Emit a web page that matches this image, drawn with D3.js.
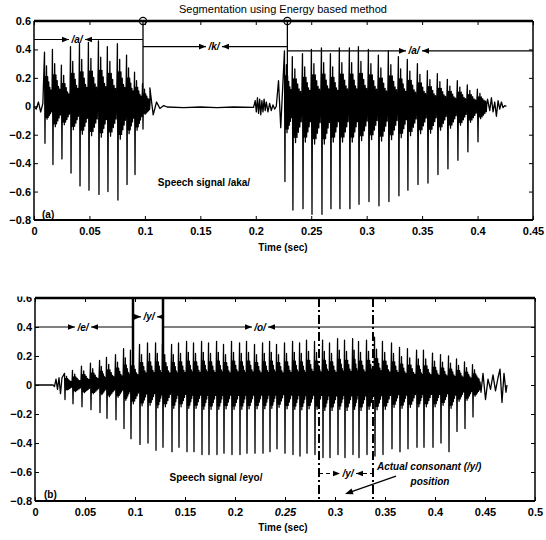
<!DOCTYPE html>
<html>
<head>
<meta charset="utf-8">
<script src="https://cdn.jsdelivr.net/npm/d3@7"></script>
<style>
  body { margin: 0; background: #fff; }
  svg { display: block; font-family: "Liberation Sans", Arial, sans-serif; }
  .tick text { font-size: 11px; font-weight: bold; fill: #000; }
  .tick line { stroke: #000; stroke-width: 1; }
  .seg-label { font-size: 10px; font-weight: bold; font-style: italic; }
  .note { font-size: 10px; font-weight: bold; }
</style>
</head>
<body>
<svg id="chart" width="546" height="540"></svg>
<script>
// ---------- tick labels ----------
const yTicks = [-0.8, -0.6, -0.4, -0.2, 0, 0.2, 0.4, 0.6];
const akaXTicks = [0, 0.05, 0.1, 0.15, 0.2, 0.25, 0.3, 0.35, 0.4, 0.45];
const eyoXTicks = [0, 0.05, 0.1, 0.15, 0.2, 0.25, 0.3, 0.35, 0.4, 0.45, 0.5];

// one pitch period, as [phase of period, peak used, share of that peak]
const pulseShape = [
  [-0.06, 'p', 1], [0, 'n', 1], [0.06, 'p', 0.55], [0.12, 'n', 0.3],
  [0.19, 'p', 0.75], [0.26, 'n', 0.35], [0.33, 'p', 0.55], [0.40, 'n', 0.3],
  [0.47, 'p', 0.45], [0.54, 'n', 0.25], [0.61, 'p', 0.35], [0.68, 'n', 0.2],
  [0.75, 'p', 0.3], [0.82, 'n', 0.15], [0.88, 'p', 0.15]
];

// ---------- (a) speech signal /aka/ ----------
const akaOnset = [[0, 0], [0.002, -0.02], [0.004, 0.03], [0.006, -0.04], [0.008, 0.02]];
const akaA1Times = [0.0099, 0.0171, 0.0252, 0.0334, 0.0415, 0.0496, 0.0586, 0.0667, 0.0757, 0.0839, 0.0911, 0.0983];
const akaA1Pos = [0.38, 0.40, 0.29, 0.42, 0.44, 0.45, 0.46, 0.42, 0.44, 0.36, 0.24, 0.16];
const akaA1Neg = [-0.26, -0.41, -0.37, -0.47, -0.56, -0.59, -0.62, -0.60, -0.66, -0.55, -0.48, -0.16];
const akaClosure = [
  [0.1045, 0.13], [0.1075, -0.06], [0.1105, 0.03], [0.1135, -0.015], [0.117, 0.005],
  [0.12, -0.005], [0.135, -0.01], [0.15, -0.005], [0.165, -0.01], [0.18, -0.005], [0.198, -0.008],
  [0.1995, 0.04], [0.2005, -0.04], [0.2015, 0.06], [0.2025, -0.05], [0.2035, 0.05], [0.2045, -0.06],
  [0.2055, 0.04], [0.2065, -0.04], [0.2075, 0.05], [0.2085, -0.03], [0.2095, 0.03], [0.211, -0.04],
  [0.2125, 0.02], [0.214, -0.03], [0.2155, 0.01], [0.217, -0.02], [0.2185, 0.0], [0.2205, 0.18],
  [0.2225, -0.15]
];
const akaA2Times = [0.2263, 0.2335, 0.2426, 0.2507, 0.2597, 0.2678, 0.2759, 0.2849, 0.2931, 0.3021, 0.3111,
  0.3201, 0.3291, 0.3372, 0.3463, 0.3553, 0.3643, 0.3733, 0.3823, 0.3913, 0.4004];
const akaA2Pos = [0.39, 0.35, 0.37, 0.40, 0.41, 0.37, 0.41, 0.41, 0.42, 0.40, 0.36, 0.39, 0.35, 0.33, 0.30,
  0.25, 0.23, 0.19, 0.18, 0.15, 0.12];
const akaA2Neg = [-0.53, -0.73, -0.72, -0.76, -0.76, -0.72, -0.72, -0.72, -0.69, -0.67, -0.70, -0.67, -0.63,
  -0.59, -0.55, -0.54, -0.48, -0.44, -0.38, -0.32, -0.25];
const akaTail = [[0.409, 0.05], [0.411, -0.03], [0.4125, 0.06], [0.414, -0.04], [0.4155, 0.03], [0.417, -0.07],
  [0.4185, 0.04], [0.42, -0.02], [0.4215, 0.03], [0.423, -0.01], [0.4245, 0.005], [0.426, 0]];
const akaBoundaries = [0.0983, 0.2285];
const akaSegments = [
  { label: '/a/', from: 0, to: 0.0983, y: 0.47, at: 0.0388 },
  { label: '/k/', from: 0.0983, to: 0.2285, y: 0.42, at: 0.1623 },
  { label: '/a/', from: 0.2285, to: 0.45, y: 0.39, at: 0.3427 }
];

// ---------- (b) speech signal /eyo/ ----------
const eyoOnset = [[0, 0], [0.018, 0], [0.0195, -0.01], [0.021, 0.04], [0.0225, -0.03], [0.024, 0.05],
  [0.0255, -0.06], [0.027, 0.05]];
const eyoTimes = [0.030, 0.038, 0.047, 0.056, 0.065, 0.072, 0.081, 0.089, 0.096, 0.105, 0.113, 0.121, 0.128,
  0.137, 0.144, 0.152, 0.159,
  0.167, 0.174, 0.182, 0.189, 0.197, 0.205, 0.212, 0.220, 0.228, 0.235, 0.242, 0.250, 0.258, 0.265, 0.272,
  0.280, 0.288, 0.295, 0.303, 0.310, 0.318,
  0.324, 0.332, 0.340, 0.348, 0.357, 0.365, 0.373, 0.382, 0.389, 0.398, 0.406, 0.414, 0.422, 0.430, 0.438];
const eyoPos = [0.08, 0.10, 0.13, 0.15, 0.17, 0.19, 0.21, 0.25, 0.24, 0.28, 0.29, 0.29, 0.28, 0.28, 0.29, 0.30, 0.29,
  0.30, 0.29, 0.30, 0.28, 0.30, 0.29, 0.30, 0.28, 0.29, 0.30, 0.28, 0.29, 0.30, 0.29, 0.31, 0.30, 0.31, 0.29,
  0.32, 0.31, 0.32,
  0.30, 0.31, 0.33, 0.30, 0.29, 0.26, 0.25, 0.24, 0.24, 0.22, 0.21, 0.20, 0.18, 0.16, 0.14];
const eyoNeg = [-0.10, -0.13, -0.15, -0.17, -0.19, -0.23, -0.24, -0.30, -0.37, -0.41, -0.40, -0.45, -0.43, -0.46,
  -0.43, -0.46, -0.46,
  -0.48, -0.48, -0.48, -0.47, -0.48, -0.48, -0.47, -0.47, -0.47, -0.46, -0.44, -0.47, -0.48, -0.49, -0.47,
  -0.48, -0.50, -0.50, -0.48, -0.50, -0.48,
  -0.50, -0.48, -0.49, -0.48, -0.44, -0.46, -0.44, -0.43, -0.43, -0.43, -0.40, -0.46, -0.32, -0.30, -0.22];
const eyoTail = [[0.446, -0.05], [0.448, 0.08], [0.4505, -0.10], [0.453, 0.04], [0.4555, -0.03], [0.458, 0.07],
  [0.4605, -0.04], [0.463, 0.05], [0.465, 0.11], [0.467, -0.12], [0.469, 0.08], [0.471, -0.05], [0.472, 0]];
const eyoBoundaries = [0.098, 0.128];
const eyoSegments = [
  { label: '/e/', from: 0, to: 0.098, y: 0.4, at: 0.048 },
  { label: '/y/', from: 0.098, to: 0.128, y: 0.47, at: 0.114 },
  { label: '/o/', from: 0.128, to: 0.5, y: 0.4, at: 0.225 }
];
const actualBounds = [0.284, 0.338];

function voicedPoints(times, pos, neg) {
  const pts = [];
  times.forEach((t, i) => {
    const period = i < times.length - 1 ? times[i + 1] - t : t - times[i - 1];
    pulseShape.forEach(([ph, ref, k]) => {
      pts.push([t + ph * period, k * (ref === 'p' ? pos[i] : neg[i])]);
    });
  });
  return pts;
}

class SpeechPanel {
  constructor(_config) {
    this.config = {
      parentElement: _config.parentElement,
      box: _config.box,              // {left, top, right, bottom} in px
      xMax: _config.xMax,
      xTicks: _config.xTicks,
      signal: _config.signal
    };
    this.initVis();
  }

  initVis() {
    const vis = this;
    const b = vis.config.box;
    vis.svg = d3.select(vis.config.parentElement);
    vis.g = vis.svg.append('g');

    vis.xScale = d3.scaleLinear().domain([0, vis.config.xMax]).range([b.left, b.right]);
    vis.yScale = d3.scaleLinear().domain([-0.8, 0.6]).range([b.bottom, b.top]);

    const fmtX = d => d === 0 ? '0' : String(+d.toFixed(2));
    const fmtY = d => d === 0 ? '0' : (d < 0 ? '\u2212' : '') + Math.abs(d).toFixed(1);

    // MATLAB style: ticks pointing inwards on all four sides
    vis.g.append('g').attr('transform', `translate(0,${b.bottom})`)
      .call(d3.axisBottom(vis.xScale).tickValues(vis.config.xTicks).tickFormat(fmtX)
        .tickSize(-4).tickSizeOuter(0).tickPadding(7))
      .call(g => g.select('.domain').remove());
    vis.g.append('g').attr('transform', `translate(0,${b.top})`)
      .call(d3.axisTop(vis.xScale).tickValues(vis.config.xTicks).tickFormat('')
        .tickSize(-4).tickSizeOuter(0))
      .call(g => g.select('.domain').remove());
    vis.g.append('g').attr('transform', `translate(${b.left},0)`)
      .call(d3.axisLeft(vis.yScale).tickValues(yTicks).tickFormat(fmtY)
        .tickSize(-4).tickSizeOuter(0).tickPadding(3))
      .call(g => g.select('.domain').remove());
    vis.g.append('g').attr('transform', `translate(${b.right},0)`)
      .call(d3.axisRight(vis.yScale).tickValues(yTicks).tickFormat('')
        .tickSize(-4).tickSizeOuter(0))
      .call(g => g.select('.domain').remove());

    vis.renderVis();

    // frame
    const frame = [
      [b.left, b.top, b.right, b.top, 2.6],
      [b.left, b.bottom, b.right, b.bottom, 2],
      [b.left, b.top, b.left, b.bottom, 1.5],
      [b.right, b.top, b.right, b.bottom, 1.5]
    ];
    vis.g.selectAll('.frame').data(frame).join('line')
      .attr('class', 'frame')
      .attr('x1', d => d[0]).attr('y1', d => d[1])
      .attr('x2', d => d[2]).attr('y2', d => d[3])
      .attr('stroke', '#000').attr('stroke-width', d => d[4]);
  }

  renderVis() {
    const vis = this;
    const line = d3.line().x(d => vis.xScale(d[0])).y(d => vis.yScale(d[1]));
    vis.g.append('path')
      .datum(vis.config.signal)
      .attr('d', line)
      .attr('fill', 'none')
      .attr('stroke', '#000')
      .attr('stroke-width', 1.3)
      .attr('stroke-linejoin', 'round');
  }
}

function arrowHead(g, x, y, dir) {
  g.append('path')
    .attr('d', `M${x},${y}L${x - 7 * dir},${y - 2.8}L${x - 7 * dir},${y + 2.8}Z`)
    .attr('fill', '#000');
}

function segLabel(g, xs, ys, seg, dash) {
  const y = ys(seg.y), c = xs(seg.at);
  [[xs(seg.from), c - 8], [c + 8, xs(seg.to)]].forEach(([a, e]) => {
    g.append('line').attr('x1', a).attr('x2', e).attr('y1', y).attr('y2', y)
      .attr('stroke', '#000').attr('stroke-width', 1.1)
      .attr('stroke-dasharray', dash || null);
  });
  arrowHead(g, c - 8, y, 1);
  arrowHead(g, c + 8, y, -1);
  g.append('text').attr('class', 'seg-label')
    .attr('x', c).attr('y', y + 3.5).attr('text-anchor', 'middle').text(seg.label);
}

const svg = d3.select('#chart');

// ---------- panel (a) ----------
const aka = new SpeechPanel({
  parentElement: '#chart',
  box: { left: 34, top: 21, right: 533, bottom: 220 },
  xMax: 0.45,
  xTicks: akaXTicks,
  signal: [].concat(akaOnset, voicedPoints(akaA1Times, akaA1Pos, akaA1Neg), akaClosure,
    voicedPoints(akaA2Times, akaA2Pos, akaA2Neg), akaTail)
});
{
  const g = aka.g, xs = aka.xScale, ys = aka.yScale;
  akaBoundaries.forEach((t, i) => {
    g.append('line').attr('x1', xs(t)).attr('x2', xs(t))
      .attr('y1', ys(0.6)).attr('y2', ys(i === 0 ? 0.04 : 0))
      .attr('stroke', '#000').attr('stroke-width', 1.3);
    g.append('circle').attr('cx', xs(t)).attr('cy', ys(0.6)).attr('r', 3.6)
      .attr('fill', 'none').attr('stroke', '#000').attr('stroke-width', 1.2);
  });
  akaSegments.forEach(s => segLabel(g, xs, ys, s));
  g.append('text').attr('class', 'note').attr('x', 204).attr('y', 186)
    .attr('text-anchor', 'middle').text('Speech signal /aka/');
  g.append('text').attr('class', 'note').attr('x', 42).attr('y', 218).text('(a)');
  g.append('text').attr('class', 'note').attr('x', 283).attr('y', 251)
    .attr('text-anchor', 'middle').text('Time (sec)');
  g.append('text').attr('x', 283).attr('y', 13).attr('text-anchor', 'middle')
    .style('font-size', '11px').text('Segmentation using Energy based method');
}

// ---------- panel (b) ----------
const eyo = new SpeechPanel({
  parentElement: '#chart',
  box: { left: 35, top: 298, right: 535, bottom: 501 },
  xMax: 0.5,
  xTicks: eyoXTicks,
  signal: [].concat(eyoOnset, voicedPoints(eyoTimes, eyoPos, eyoNeg), eyoTail)
});
{
  const g = eyo.g, xs = eyo.xScale, ys = eyo.yScale;
  // upper half of the 0.6 label is lost in the original
  g.append('rect').attr('x', 0).attr('y', 284).attr('width', 33).attr('height', 12.5).attr('fill', '#fff');
  g.selectAll('.tick text').filter(d => d === 0.25).style('font-style', 'italic');

  eyoBoundaries.forEach(t => {
    g.append('line').attr('x1', xs(t)).attr('x2', xs(t))
      .attr('y1', ys(0.6)).attr('y2', ys(0.1))
      .attr('stroke', '#000').attr('stroke-width', 2.5);
  });
  eyoSegments.forEach(s => segLabel(g, xs, ys, s));

  actualBounds.forEach(t => {
    g.append('line').attr('x1', xs(t)).attr('x2', xs(t))
      .attr('y1', ys(0.6)).attr('y2', ys(-0.8))
      .attr('stroke', '#000').attr('stroke-width', 2)
      .attr('stroke-dasharray', '9,3,2,3');
  });
  segLabel(g, xs, ys, { label: '/y/', from: actualBounds[0], to: actualBounds[1], y: -0.61, at: 0.313 }, '4,3');

  g.append('text').attr('class', 'note').style('font-style', 'italic')
    .attr('x', 377).attr('y', 470).text('Actual consonant (/y/)');
  g.append('text').attr('class', 'note').style('font-style', 'italic')
    .attr('x', 430).attr('y', 485).attr('text-anchor', 'middle').text('position');
  g.append('line').attr('x1', xs(0.361)).attr('y1', ys(-0.628))
    .attr('x2', xs(0.316)).attr('y2', ys(-0.737))
    .attr('stroke', '#000').attr('stroke-width', 1.3);
  {
    const x2 = xs(0.310), y2 = ys(-0.752), x1 = xs(0.361), y1 = ys(-0.628);
    const ang = Math.atan2(y2 - y1, x2 - x1) * 180 / Math.PI;
    g.append('path').attr('d', 'M0,0L-8,-3L-8,3Z')
      .attr('transform', `translate(${x2},${y2}) rotate(${ang})`).attr('fill', '#000');
  }

  g.append('text').attr('class', 'note').attr('x', 216).attr('y', 481)
    .attr('text-anchor', 'middle').text('Speech signal /eyo/');
  g.append('text').attr('class', 'note').attr('x', 44).attr('y', 498).text('(b)');
  g.append('text').attr('class', 'note').attr('x', 283).attr('y', 531)
    .attr('text-anchor', 'middle').text('Time (sec)');
}
</script>
</body>
</html>
